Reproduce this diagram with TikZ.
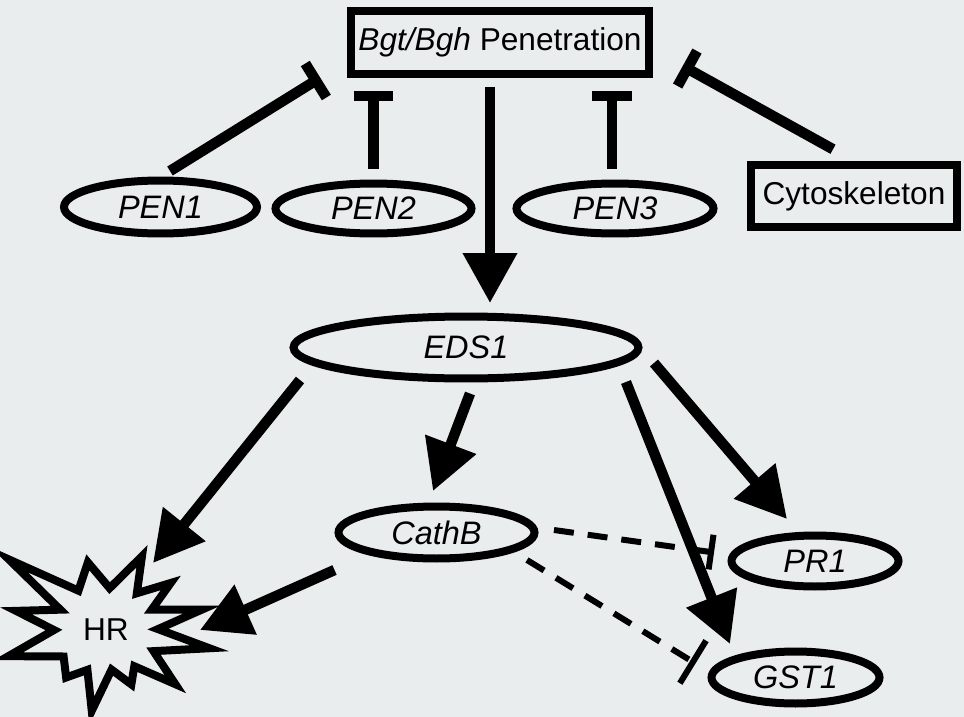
\documentclass[tikz,border=0pt]{standalone}
\usepackage{fontspec}
\setmainfont{Liberation Sans}
\usetikzlibrary{calc,shapes.geometric,arrows.meta}
\definecolor{paper}{RGB}{233,237,237}

\begin{document}
\begin{tikzpicture}[x=0.02cm,y=-0.02cm,
    every node/.style={font=\fontsize{18}{21}\selectfont},
    gene/.style={ellipse,draw,line width=0.16cm,inner sep=0pt,font=\fontsize{18.5}{21}\selectfont\itshape},
    box/.style={rectangle,draw,line width=0.15cm,inner sep=0pt},
    act/.style={line width=0.21cm,-{Triangle[length=1cm,width=1.04cm]}},
    inh/.style={line width=0.21cm,-{Bar[width=0.8cm]}},
    dinh/.style={line width=0.12cm,dash pattern=on 0.4cm off 0.28cm,-{Bar[width=0.8cm]}}]
            \path[use as bounding box,fill=paper] (0,0) rectangle (964,717);

            \node[box,minimum width=5.96cm,minimum height=1.26cm] (pen) at (500,42.5) {\textit{Bgt/Bgh} Penetration};
            \node[box,minimum width=4.12cm,minimum height=1.24cm] (cyto) at (854,196) {Cytoskeleton};

            \node[gene,minimum width=3.86cm,minimum height=1.06cm] (pen1) at (160.5,207) {PEN1};
            \node[gene,minimum width=3.92cm,minimum height=1cm] (pen2) at (373.5,208.5) {PEN2};
            \node[gene,minimum width=3.94cm,minimum height=1cm] (pen3) at (615,208.5) {PEN3};
            \node[gene,minimum width=6.9cm,minimum height=1.24cm] (eds1) at (466,347.5) {EDS1};
            \node[gene,minimum width=3.92cm,minimum height=1.04cm] (cathb) at (436.5,532.5) {CathB};
            \node[gene,minimum width=3.34cm,minimum height=1.02cm] (pr1) at (815,561) {PR1};
            \node[gene,minimum width=3.36cm,minimum height=1.04cm] (gst1) at (795.5,677.5) {GST1};

            % burst round HR
            \node (hr) at (106,630) {HR};
            \draw[line width=0.16cm,miter limit=20] ($(hr)+(-144:120)$)
                \foreach \a/\r in {125/48,105/70,85/42,64/82,50/48,36/80,24/50,12/98,1/52,-10/105,-24/52,
                    -38/88,-52/46,-65/60,-82/40,-100/82,-115/44,-130/62,-148/50,-165/101,180/52,168/92,156/50}
                { -- ($(hr)+({-\a}:\r)$) } -- cycle;

            % inhibition of penetration
            \draw[inh] ($(pen1.north)+(9.5,-5.5)$) -- ($(pen.south west)+(-27,0)$);
            \draw[inh] ($(pen2.north)+(0,-11)$) -- ($(pen2.north |- pen.south)+(0,13)$);
            \draw[inh] ($(pen3.north)+(-3,-11)$) -- ($(pen3.north |- pen.south)+(-3,13)$);
            \draw[inh] ($(cyto.north)+(-21,-12)$) -- ($(pen.east)+(30,23.5)$);

            \draw[act] ($(pen.south)+(-10,9)$) -- ($(eds1.north)+(24,-9.5)$);

            \draw[act] ($(eds1.center)+(-166,32.5)$) -- ($(hr)+(47,-67)$);
            \draw[act] ($(eds1.south)+(4,11)$) -- ($(cathb.north)+(-3.5,-11.5)$);
            \draw[act] ($(eds1.east)+(11.5,15.5)$) -- ($(pr1.north)+(-28,-12.5)$);
            \draw[act] ($(eds1.east)+(-16.5,34.5)$) -- ($(gst1.north)+(-65.5,-3.5)$);
            \draw[act] ($(cathb.west)+(0,37.5)$) -- ($(hr)+(94,0)$);

            \draw[dinh,-{Bar[width=0.7cm]}] ($(cathb.east)+(15.5,-2.5)$) -- ($(pr1.west)+(-13.5,-8.5)$);
            \draw[dinh,-{Bar[width=1cm]}] ($(cathb.center)+(90.5,27.5)$) -- ($(gst1.west)+(-12,-14)$);
        \end{tikzpicture}
\end{document}
